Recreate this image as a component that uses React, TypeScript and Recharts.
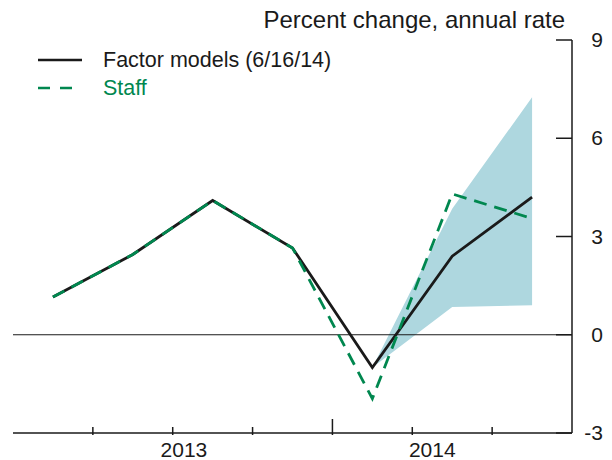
import React from 'react';
import { ComposedChart, Line, Area, XAxis, YAxis, ReferenceLine } from 'recharts';

// Quarters 2013:Q1 .. 2014:Q3 (index 0..6)
const quarters = [0, 1, 2, 3, 4, 5, 6];
const factorModels = [1.15, 2.45, 4.1, 2.65, -1.0, 2.4, 4.2];
const staff = [1.15, 2.45, 4.1, 2.65, -1.95, 4.3, 3.55];
const bandLow = [null, null, null, null, -1.0, 0.85, 0.9];
const bandHigh = [null, null, null, null, -1.0, 3.85, 7.25];

const yTicks = [9, 6, 3, 0, -3];
const quarterBounds = [0.5, 1.5, 2.5, 3.5, 4.5, 5.5];
const yearBound = 3.5;
const yearTicks = [1.64, 4.75];
const yearLabels = ['2013', '2014'];

const GREEN = '#00874F';
const INK = '#1a1a1a';
const FONT = '"Liberation Sans", Arial, sans-serif';

const data = quarters.map((q, i) => ({
  q,
  factor: factorModels[i],
  staff: staff[i],
  band: bandLow[i] === null ? null : [bandLow[i], bandHigh[i]],
}));

const RightTick = (props: any) => {
  const { x, y, payload } = props;
  return (
    <g>
      <line x1={x - 24} x2={x - 8} y1={y} y2={y} stroke={INK} strokeWidth={1.5} />
      <text x={x + 23} y={y + 7} textAnchor="end" fontSize={21} fontFamily={FONT} fill={INK}>{payload.value}</text>
    </g>
  );
};

const LeftTick = (props: any) => {
  const { x, y } = props;
  return <line x1={x + 8} x2={x + 32} y1={y} y2={y} stroke={INK} strokeWidth={1.5} />;
};

const BottomTick = (props: any) => {
  const { x, y, payload } = props;
  const v = payload.value;
  const yi = yearTicks.indexOf(v);
  if (yi >= 0) {
    return (
      <text x={x} y={y + 16} textAnchor="middle" fontSize={21} fontFamily={FONT} fill={INK}>
        {yearLabels[yi]}
      </text>
    );
  }
  const len = v === yearBound ? 16 : 8;
  return <line x1={x} x2={x} y1={y - 6} y2={y - 6 - len} stroke={INK} strokeWidth={1.5} />;
};

export default function App() {
  return (
    <div style={{ position: 'absolute', left: 0, top: 0, width: 612, height: 460, background: '#fff' }}>
      <div
        style={{
          position: 'absolute', right: 47, top: 6, fontSize: 24, fontFamily: FONT, color: INK, whiteSpace: 'nowrap',
        }}
      >
        Percent change, annual rate
      </div>
      <svg width={360} height={60} style={{ position: 'absolute', left: 0, top: 45, zIndex: 2 }}>
        <line x1={38} x2={82} y1={15} y2={15} stroke={INK} strokeWidth={2.5} />
        <text x={103} y={22} fontSize={21.5} fontFamily={FONT} fill={INK}>Factor models (6/16/14)</text>
        <line x1={38} x2={80} y1={43} y2={43} stroke={GREEN} strokeWidth={2.5} strokeDasharray="12 10" />
        <text x={103} y={50} fontSize={21.5} fontFamily={FONT} fill={GREEN}>Staff</text>
      </svg>
      <ComposedChart
        width={612}
        height={460}
        data={data}
        margin={{ top: 40, right: 0, left: 13, bottom: 0 }}
      >
        <XAxis
          xAxisId="b"
          dataKey="q"
          type="number"
          domain={[-0.5, 6.5]}
          ticks={[...quarterBounds, ...yearTicks].sort((a, b) => a - b)}
          tick={<BottomTick />}
          tickLine={false}
          axisLine={{ stroke: INK, strokeWidth: 1.5 }}
          height={27}
          interval={0}
        />
        <YAxis
          yAxisId="r"
          orientation="right"
          domain={[-3, 9]}
          ticks={yTicks}
          tick={<RightTick />}
          tickLine={false}
          axisLine={{ stroke: INK, strokeWidth: 1.5 }}
          width={40}
          interval={0}
        />
        <YAxis
          yAxisId="l"
          orientation="left"
          domain={[-3, 9]}
          ticks={[9]}
          tick={<LeftTick />}
          tickLine={false}
          axisLine={{ stroke: INK, strokeWidth: 1.5 }}
          width={0}
        />
        <ReferenceLine xAxisId="b" yAxisId="r" y={0} stroke={INK} strokeWidth={1.2} />
        <Area
          xAxisId="b"
          yAxisId="r"
          dataKey="band"
          type="linear"
          fill="#AED7DF"
          fillOpacity={1}
          stroke="none"
          isAnimationActive={false}
        />
        <Line
          xAxisId="b"
          yAxisId="r"
          dataKey="factor"
          type="linear"
          stroke={INK}
          strokeWidth={2.8}
          dot={false}
          isAnimationActive={false}
        />
        <Line
          xAxisId="b"
          yAxisId="r"
          dataKey="staff"
          type="linear"
          stroke={GREEN}
          strokeWidth={2.8}
          strokeDasharray="13 8"
          dot={false}
          isAnimationActive={false}
        />
      </ComposedChart>
    </div>
  );
}
